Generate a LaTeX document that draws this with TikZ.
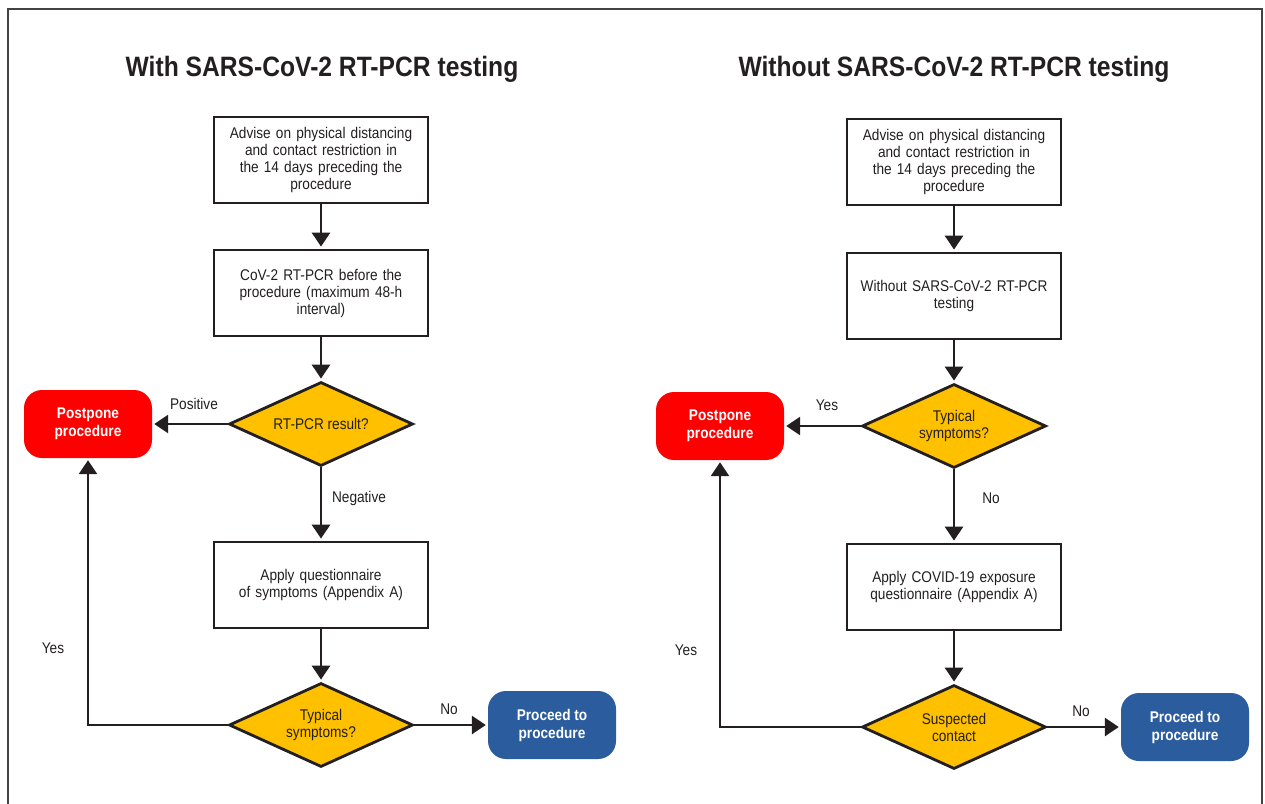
\documentclass[tikz,border=0pt]{standalone}
\usepackage{fontspec}
\setmainfont[FakeStretch=0.88]{Liberation Sans}
\usepackage{tikz}
\usetikzlibrary{arrows.meta,shapes.geometric}

\definecolor{amber}{HTML}{FFC000}
\definecolor{postred}{HTML}{FF0000}
\definecolor{goblue}{HTML}{2B5C9E}
\definecolor{ink}{HTML}{231F20}

\tikzset{
  stepbox/.style={draw=ink, line width=2.8pt, minimum width=214pt, minimum height=86pt,
                  text width=205pt, align=center, text=ink, font=\fontsize{15.5}{17}\selectfont},
  query/.style={diamond, draw=ink, line width=2.8pt, fill=amber, minimum width=184pt,
                minimum height=84pt, inner sep=0pt, aspect=2.2, align=center, text=ink,
                font=\fontsize{15.5}{17}\selectfont},
  endbox/.style={rounded corners=18pt, minimum width=128pt, minimum height=68pt,
                 align=center, text=white, font=\bfseries\fontsize{15.5}{18}\selectfont},
  stopbox/.style={endbox, fill=postred},
  gobox/.style={endbox, fill=goblue},
  flow/.style={draw=ink, line width=2.8pt, -{Triangle[width=18pt,length=14pt]}, shorten >=2pt},
  lbl/.style={text=ink, font=\fontsize{15.5}{17}\selectfont},
  heading/.style={text=ink, font=\bfseries\fontsize{28}{32}\selectfont}
}

\begin{document}
\begin{tikzpicture}[x=1pt,y=-1pt]

\useasboundingbox (0,0) rectangle (1265,803);
\draw[ink!85, line width=1.2pt] (8,815) -- (8,9) -- (1262,9) -- (1262,815);

% with testing
\node[heading] (t1) at (322,69) {With SARS-CoV-2 RT-PCR testing};

\node[stepbox] (a1) at (321,160) {Advise on physical distancing\\ and contact restriction in\\ the 14 days preceding the\\ procedure};
\node[stepbox] (a2) at (321,293) {CoV-2 RT-PCR before the\\ procedure (maximum 48-h\\ interval)};
\node[query]   (q1) at (321,424) {RT-PCR result?};
\node[stopbox] (p1) at (88,424)  {Postpone\\ procedure};
\node[stepbox] (a3) at (321,585) {Apply questionnaire\\ of symptoms (Appendix A)};
\node[query]   (q2) at (321,725) {Typical\\ symptoms?};
\node[gobox]   (g1) at (552,725) {Proceed to\\ procedure};

\foreach \s/\t in {a1/a2,a2/q1,q1/a3,a3/q2}
    \draw[flow] (\s) -- (\t);

\draw[flow] (q1) -- (p1);
\draw[flow] (q2) -- (g1);
\draw[flow] (q2.west) -| (p1.south);

\node[lbl] (l1) at (194,404) {Positive};
\node[lbl] (l2) at (359,498) {Negative};
\node[lbl] (l3) at (449,709) {No};
\node[lbl] (l4) at (53,648)  {Yes};

% without testing
\node[heading] (t2) at (954,69) {Without SARS-CoV-2 RT-PCR testing};

\node[stepbox] (b1) at (954,162) {Advise on physical distancing\\ and contact restriction in\\ the 14 days preceding the\\ procedure};
\node[stepbox] (b2) at (954,296) {Without SARS-CoV-2 RT-PCR\\ testing};
\node[query]   (q3) at (954,426) {Typical\\ symptoms?};
\node[stopbox] (p2) at (720,426) {Postpone\\ procedure};
\node[stepbox] (b3) at (954,587) {Apply COVID-19 exposure\\ questionnaire (Appendix A)};
\node[query]   (q4) at (954,727) {Suspected\\ contact};
\node[gobox]   (g2) at (1185,727) {Proceed to\\ procedure};

\foreach \s/\t in {b1/b2,b2/q3,q3/b3,b3/q4}
    \draw[flow] (\s) -- (\t);

\draw[flow] (q3) -- (p2);
\draw[flow] (q4) -- (g2);
\draw[flow] (q4.west) -| (p2.south);

\node[lbl] (m1) at (827,405)  {Yes};
\node[lbl] (m2) at (991,498)  {No};
\node[lbl] (m3) at (1081,711) {No};
\node[lbl] (m4) at (686,650)  {Yes};

\end{tikzpicture}
\end{document}
